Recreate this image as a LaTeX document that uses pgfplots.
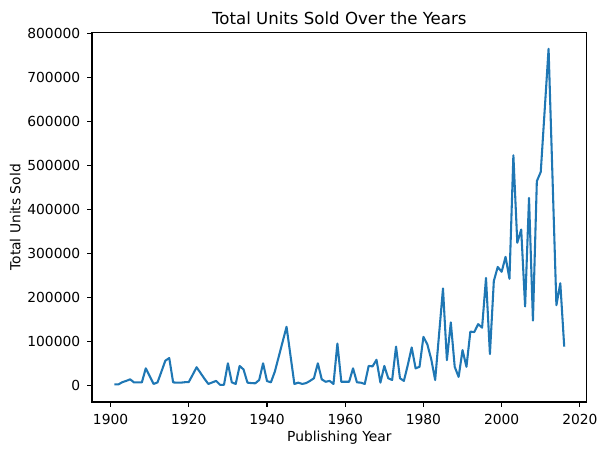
\documentclass[border=0pt]{standalone}
\usepackage{fontspec}
\setmainfont{DejaVu Sans}
\usepackage{pgfplots}
\pgfplotsset{compat=1.18}
\definecolor{mplblue}{HTML}{1F77B4}

\pgfplotstableread{
year units
1901 3000
1902 3000
1903 8000
1904 11000
1905 14500
1906 7500
1907 7500
1908 7500
1909 39500
1910 22000
1911 4000
1912 7500
1913 32000
1914 57000
1915 63000
1916 7500
1917 7000
1918 7000
1919 8000
1920 8500
1921 25000
1922 42000
1923 29000
1924 16000
1925 4000
1926 7500
1927 11000
1928 2000
1929 2000
1930 51000
1931 7700
1932 4000
1933 45000
1934 37000
1935 7000
1936 6000
1937 5500
1938 13000
1939 51000
1940 10700
1941 7700
1942 32000
1943 66000
1944 100000
1945 134000
1946 69000
1947 4000
1948 7000
1949 4000
1950 6000
1951 11000
1952 17000
1953 51000
1954 14500
1955 9000
1956 11000
1957 4000
1958 96000
1959 9000
1960 9000
1961 9000
1962 39500
1963 7700
1964 7000
1965 4000
1966 45000
1967 44000
1968 59000
1969 7000
1970 45000
1971 17000
1972 13000
1973 89000
1974 17000
1975 11000
1976 47000
1977 87000
1978 39500
1979 43000
1980 111000
1981 94000
1982 60000
1983 13000
1984 117000
1985 221000
1986 58000
1987 144000
1988 43000
1989 20000
1990 81000
1991 43000
1992 123000
1993 122000
1994 140000
1995 132000
1996 245000
1997 72000
1998 238000
1999 270000
2000 259000
2001 293000
2002 243000
2003 524000
2004 325000
2005 355000
2006 180000
2007 427000
2008 148000
2009 465000
2010 486000
2011 626000
2012 766000
2013 475000
2014 183000
2015 233000
2016 89000
}\sales

\begin{document}
\begin{tikzpicture}
\begin{axis}[
    at={(0,0)}, anchor=south west,
    scale only axis,
    width=4.947in, height=3.693in,
    xmin=1895.25, xmax=2021.75,
    ymin=-37000, ymax=802500,
    xtick={1900,1920,...,2020},
    ytick={0,100000,...,800000},
    xtick pos=bottom, ytick pos=left,
    scaled y ticks=false,
    /pgf/number format/assume math mode=true,
    /pgf/number format/1000 sep={},
    /pgf/number format/fixed,
    tick align=outside,
    major tick length=3.5pt,
    every tick/.style={black, line width=0.8pt},
    axis line style={line width=0.8pt},
    tick label style={font=\fontsize{10}{12}\selectfont},
    yticklabel style={xshift=-1.5pt},
    xticklabel style={yshift=-1.5pt},
    title={Total Units Sold Over the Years},
    title style={font=\fontsize{12}{14}\selectfont, yshift=-3.5pt},
    xlabel={Publishing Year},
    ylabel={Total Units Sold},
    label style={font=\fontsize{10}{12}\selectfont},
    xlabel style={yshift=2pt},
    ylabel style={yshift=-2pt},
]
\addplot[mplblue, line width=1.5pt, line join=round] table[x=year, y=units] {\sales};
\end{axis}
\pgfresetboundingbox
\useasboundingbox (-0.92in,-0.53in) rectangle (5.16in,4.02in);
\end{tikzpicture}
\end{document}
